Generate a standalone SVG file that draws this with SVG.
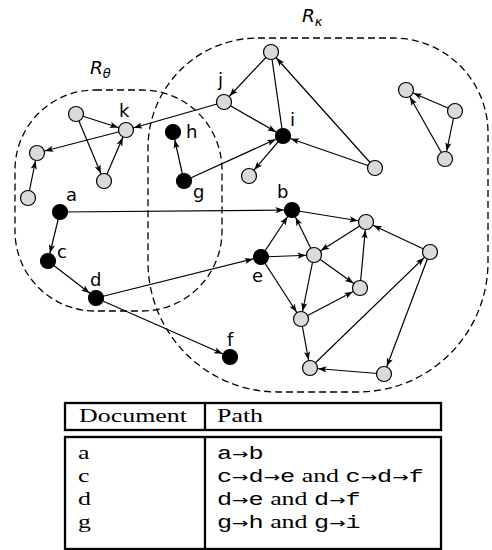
<svg xmlns="http://www.w3.org/2000/svg" width="492" height="550" viewBox="0 0 492 550">
<style>
.region{fill:none;stroke:#000;stroke-width:1.3;stroke-dasharray:7 4}
.edge{stroke:#000;stroke-width:1.2;fill:none}
.arr{marker-end:url(#ah)}
.grey{fill:#ddd9d6;stroke:#000;stroke-width:1.2}
.black{fill:#000;stroke:#000;stroke-width:1.2}
.lbl{font-family:"DejaVu Sans",sans-serif;font-size:18px;fill:#000}
.rlbl{font-family:"DejaVu Sans",sans-serif;font-size:18.5px;font-style:italic;fill:#000}
.tline{fill:none;stroke:#000;stroke-width:2.3}
.serif{font-family:"Liberation Serif","DejaVu Serif",serif;font-size:18.5px;fill:#000}
.mono{font-family:"Liberation Mono","DejaVu Sans Mono",monospace;font-size:18px}
.ar{font-family:"DejaVu Sans",sans-serif;font-size:14px}
</style>
<defs>
<marker id="ah" markerUnits="userSpaceOnUse" markerWidth="30" markerHeight="12" viewBox="-22 -6 30 12" refX="0" refY="0" orient="auto" overflow="visible">
<path d="M-8.2,0 L-16.5,-3.1 L-14.6,0 L-16.5,3.1 Z" fill="#000"/>
</marker>
</defs>

<g id="regions">
<rect class="region" x="15" y="90" width="207" height="221" rx="80" ry="80"/>
<path class="region" d="M258,38 H393 A95,95 0 0 1 488,133 V262 A130,130 0 0 1 358,392 H278 A130,130 0 0 1 148,262 V148 A110,110 0 0 1 258,38 Z"/>
<text class="rlbl" x="90" y="74">R<tspan font-size="13" dy="4">θ</tspan></text>
<text class="rlbl" x="302" y="22">R<tspan font-size="13" dy="4">κ</tspan></text>
</g>

<g id="connectors">
<line class="edge arr" x1="76" y1="114" x2="126" y2="130"/>
<line class="edge arr" x1="76" y1="114" x2="104" y2="181"/>
<line class="edge arr" x1="104" y1="181" x2="126" y2="130"/>
<line class="edge arr" x1="126" y1="130" x2="37" y2="153"/>
<line class="edge arr" x1="28" y1="198" x2="37" y2="153"/>
<line class="edge arr" x1="224" y1="102" x2="126" y2="130"/>
<line class="edge arr" x1="184" y1="181" x2="173" y2="132"/>
<line class="edge arr" x1="184" y1="181" x2="283" y2="136"/>
<line class="edge arr" x1="271" y1="52" x2="224" y2="102"/>
<line class="edge" x1="271" y1="52" x2="283" y2="136"/>
<line class="edge arr" x1="224" y1="102" x2="283" y2="136"/>
<line class="edge arr" x1="283" y1="136" x2="249" y2="176"/>
<line class="edge arr" x1="375" y1="168" x2="283" y2="136"/>
<line class="edge arr" x1="375" y1="168" x2="271" y2="52"/>
<line class="edge arr" x1="455" y1="111" x2="406" y2="90"/>
<line class="edge arr" x1="445" y1="159" x2="406" y2="90"/>
<line class="edge arr" x1="455" y1="111" x2="445" y2="159"/>
<line class="edge arr" x1="60" y1="212" x2="292" y2="210"/>
<line class="edge arr" x1="292" y1="210" x2="366" y2="222"/>
<line class="edge arr" x1="261" y1="257" x2="292" y2="210"/>
<line class="edge arr" x1="314" y1="255" x2="292" y2="210"/>
<line class="edge arr" x1="366" y1="222" x2="314" y2="255"/>
<line class="edge arr" x1="261" y1="257" x2="314" y2="255"/>
<line class="edge arr" x1="96" y1="298" x2="261" y2="257"/>
<line class="edge arr" x1="261" y1="257" x2="301" y2="319"/>
<line class="edge arr" x1="314" y1="255" x2="301" y2="319"/>
<line class="edge arr" x1="314" y1="255" x2="360" y2="288"/>
<line class="edge arr" x1="360" y1="288" x2="366" y2="222"/>
<line class="edge arr" x1="430" y1="252" x2="366" y2="222"/>
<line class="edge arr" x1="301" y1="319" x2="360" y2="288"/>
<line class="edge arr" x1="301" y1="319" x2="310" y2="368"/>
<line class="edge arr" x1="310" y1="368" x2="430" y2="252"/>
<line class="edge arr" x1="430" y1="252" x2="384" y2="374"/>
<line class="edge arr" x1="384" y1="374" x2="310" y2="368"/>
<line class="edge arr" x1="60" y1="212" x2="48" y2="261"/>
<line class="edge arr" x1="48" y1="261" x2="96" y2="298"/>
<line class="edge arr" x1="96" y1="298" x2="230" y2="357"/>
</g>

<g id="nodes">
<g id="node-g1"><circle class="grey" cx="76" cy="114" r="7.5"/></g>
<g id="node-k"><circle class="grey" cx="126" cy="130" r="7.5"/><text class="lbl" x="119" y="117">k</text></g>
<g id="node-g2"><circle class="grey" cx="37" cy="153" r="7.5"/></g>
<g id="node-g3"><circle class="grey" cx="104" cy="181" r="7.5"/></g>
<g id="node-g4"><circle class="grey" cx="28" cy="198" r="7.5"/></g>
<g id="node-j"><circle class="grey" cx="224" cy="102" r="7.5"/><text class="lbl" x="218" y="86">j</text></g>
<g id="node-t"><circle class="grey" cx="271" cy="52" r="7.5"/></g>
<g id="node-g5"><circle class="grey" cx="249" cy="176" r="7.5"/></g>
<g id="node-g6"><circle class="grey" cx="375" cy="168" r="7.5"/></g>
<g id="node-r1"><circle class="grey" cx="406" cy="90" r="7.5"/></g>
<g id="node-r2"><circle class="grey" cx="455" cy="111" r="7.5"/></g>
<g id="node-r3"><circle class="grey" cx="445" cy="159" r="7.5"/></g>
<g id="node-n1"><circle class="grey" cx="366" cy="222" r="7.5"/></g>
<g id="node-c0"><circle class="grey" cx="314" cy="255" r="7.5"/></g>
<g id="node-n2"><circle class="grey" cx="360" cy="288" r="7.5"/></g>
<g id="node-n3"><circle class="grey" cx="430" cy="252" r="7.5"/></g>
<g id="node-n4"><circle class="grey" cx="301" cy="319" r="7.5"/></g>
<g id="node-n5"><circle class="grey" cx="310" cy="368" r="7.5"/></g>
<g id="node-n6"><circle class="grey" cx="384" cy="374" r="7.5"/></g>
<g id="node-a"><circle class="black" cx="60" cy="212" r="7.5"/><text class="lbl" x="66" y="201">a</text></g>
<g id="node-c"><circle class="black" cx="48" cy="261" r="7.5"/><text class="lbl" x="57" y="258">c</text></g>
<g id="node-d"><circle class="black" cx="96" cy="298" r="7.5"/><text class="lbl" x="90" y="286">d</text></g>
<g id="node-h"><circle class="black" cx="173" cy="132" r="7.5"/><text class="lbl" x="186" y="138">h</text></g>
<g id="node-g"><circle class="black" cx="184" cy="181" r="7.5"/><text class="lbl" x="193" y="198">g</text></g>
<g id="node-i"><circle class="black" cx="283" cy="136" r="7.5"/><text class="lbl" x="290" y="126">i</text></g>
<g id="node-b"><circle class="black" cx="292" cy="210" r="7.5"/><text class="lbl" x="277" y="198">b</text></g>
<g id="node-e"><circle class="black" cx="261" cy="257" r="7.5"/><text class="lbl" x="252" y="282">e</text></g>
<g id="node-f"><circle class="black" cx="230" cy="357" r="7.5"/><text class="lbl" x="227" y="346">f</text></g>
</g>

<g id="table">
<rect class="tline" x="65" y="403" width="376" height="27"/>
<line class="tline" x1="205" y1="403" x2="205" y2="430"/>
<rect class="tline" x="65" y="437" width="376" height="112"/>
<line class="tline" x1="205" y1="437" x2="205" y2="549"/>
<g transform="scale(1.4 1)">
<text class="serif" x="56.5" y="422">Document</text>
<text class="serif" x="155" y="422">Path</text>
<text class="serif" x="55.8" y="459">a</text>
<text class="serif" x="55.8" y="482">c</text>
<text class="serif" x="55.8" y="505">d</text>
<text class="serif" x="55.8" y="528">g</text>
<text class="serif" x="155" y="459"><tspan class="mono">a</tspan><tspan class="ar">→</tspan><tspan class="mono">b</tspan></text>
<text class="serif" x="155" y="482"><tspan class="mono">c</tspan><tspan class="ar">→</tspan><tspan class="mono">d</tspan><tspan class="ar">→</tspan><tspan class="mono">e</tspan> and <tspan class="mono">c</tspan><tspan class="ar">→</tspan><tspan class="mono">d</tspan><tspan class="ar">→</tspan><tspan class="mono">f</tspan></text>
<text class="serif" x="155" y="505"><tspan class="mono">d</tspan><tspan class="ar">→</tspan><tspan class="mono">e</tspan> and <tspan class="mono">d</tspan><tspan class="ar">→</tspan><tspan class="mono">f</tspan></text>
<text class="serif" x="155" y="528"><tspan class="mono">g</tspan><tspan class="ar">→</tspan><tspan class="mono">h</tspan> and <tspan class="mono">g</tspan><tspan class="ar">→</tspan><tspan class="mono">i</tspan></text>
</g>
</g>
</svg>
